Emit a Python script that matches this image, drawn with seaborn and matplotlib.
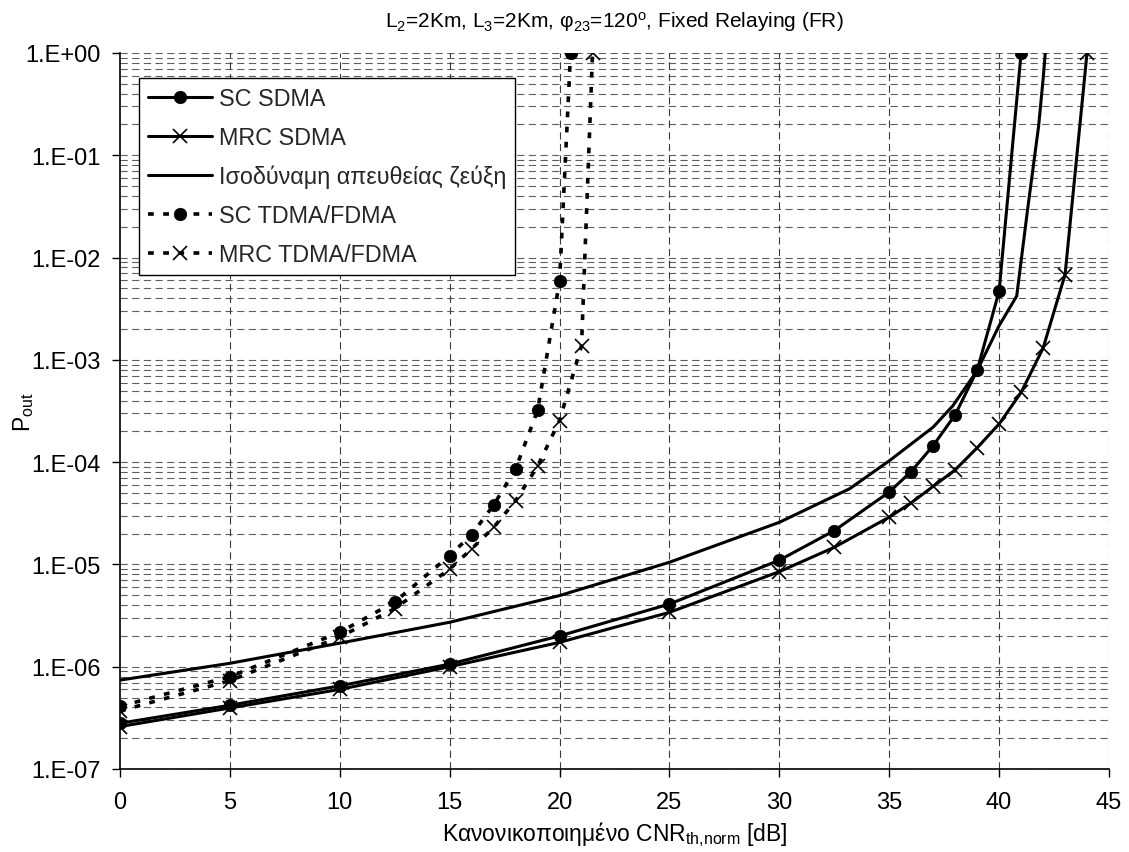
import numpy as np
import pandas as pd
import matplotlib
matplotlib.use("Agg")
import matplotlib.pyplot as plt
from matplotlib.ticker import FixedLocator, FixedFormatter, NullFormatter
import seaborn as sns

# ---- data -------------------------------------------------------------
sc_sdma_x = [0, 5, 10, 15, 20, 25, 30, 32.5, 35, 36, 37, 38, 39, 40, 41]
sc_sdma_y = [2.8e-7, 4.2e-7, 6.5e-7, 1.06e-6, 2.0e-6, 4.1e-6, 1.1e-5, 2.14e-5,
             5.1e-5, 8.1e-5, 1.45e-4, 2.9e-4, 7.9e-4, 4.7e-3, 1.0]

mrc_sdma_x = [0, 5, 10, 15, 20, 25, 30, 32.5, 35, 36, 37, 38, 39, 40, 41, 42, 43, 44]
mrc_sdma_y = [2.6e-7, 3.95e-7, 6.0e-7, 1.0e-6, 1.73e-6, 3.4e-6, 8.5e-6, 1.47e-5,
              2.9e-5, 4.0e-5, 5.8e-5, 8.4e-5, 1.38e-4, 2.36e-4, 4.8e-4, 1.3e-3,
              6.8e-3, 1.0]

direct_x = [0, 5, 10, 15, 20, 25, 30, 33.2, 35, 37, 37.9, 39.0, 40.0, 40.8,
            41.3, 41.8, 42.0, 42.1]
direct_y = [7.4e-7, 1.08e-6, 1.7e-6, 2.72e-6, 4.96e-6, 1.05e-5, 2.58e-5, 5.5e-5,
            1.03e-4, 2.2e-4, 3.57e-4, 7.85e-4, 2.16e-3, 4.2e-3, 3.0e-2, 1.95e-1,
            5.5e-1, 1.0]

sc_tdma_x = [0, 5, 10, 12.5, 15, 16, 17, 18, 19, 20, 20.5]
sc_tdma_y = [4.1e-7, 8.0e-7, 2.17e-6, 4.3e-6, 1.22e-5, 1.96e-5, 3.8e-5, 8.6e-5,
             3.2e-4, 5.9e-3, 1.0]

mrc_tdma_x = [0, 5, 10, 12.5, 15, 16, 17, 18, 19, 20, 21, 21.5]
mrc_tdma_y = [3.7e-7, 7.3e-7, 1.95e-6, 3.7e-6, 9.0e-6, 1.42e-5, 2.3e-5, 4.2e-5,
              9.1e-5, 2.55e-4, 1.38e-3, 1.0]

series_names = ["SC SDMA", "MRC SDMA", "Ισοδύναμη απευθείας ζεύξη",
                "SC TDMA/FDMA", "MRC TDMA/FDMA"]

x_ticks = [0, 5, 10, 15, 20, 25, 30, 35, 40, 45]
y_ticks = [1e-7, 1e-6, 1e-5, 1e-4, 1e-3, 1e-2, 1e-1, 1e0]
y_tick_labels = ["1.E-07", "1.E-06", "1.E-05", "1.E-04", "1.E-03", "1.E-02",
                 "1.E-01", "1.E+00"]

title_text = r"L$_2$=2Km, L$_3$=2Km, φ$_{23}$=120$^{\mathrm{o}}$, Fixed Relaying (FR)"
x_label = r"Κανονικοποιημένο CNR$_{\mathrm{th{,}norm}}$ [dB]"
y_label = r"P$_{\mathrm{out}}$"

# ---- style ------------------------------------------------------------
sns.set_theme(style="white")
plt.rcParams["font.family"] = ["Liberation Sans", "DejaVu Sans"]
plt.rcParams["mathtext.fontset"] = "custom"
plt.rcParams["mathtext.rm"] = "Liberation Sans"
plt.rcParams["mathtext.it"] = "Liberation Sans"
plt.rcParams["mathtext.bf"] = "Liberation Sans"

W, H = 1129, 853
fig = plt.figure(figsize=(W / 100, H / 100), dpi=100)
ax = fig.add_axes([120 / W, 1 - 770 / H, (1109 - 120) / W, (770 - 54) / H])
ax.set_facecolor("white")

# grid (drawn manually so minor and major share one dash style)
grid_kw = dict(lw=0.8, zorder=1, dashes=(6.5, 4.0))
for dec in range(-7, 0):
    for m in range(1, 10):
        v = m * 10.0 ** dec
        ax.axhline(v, color="#5e5e5e", **grid_kw)
ax.axhline(1.0, color="#5e5e5e", **grid_kw)
for xv in x_ticks[1:]:
    ax.axvline(xv, color="#3a3a3a", **grid_kw)

lw_solid = 2.2
dot_dashes = (1.6, 2.6)
circ = dict(marker="o", markersize=9, markerfacecolor="black",
            markeredgecolor="black", markeredgewidth=0.5)
cross = dict(marker="x", markersize=10, markeredgecolor="black",
             markeredgewidth=1.2)

sns.lineplot(x=sc_sdma_x, y=sc_sdma_y, ax=ax, color="black", lw=lw_solid,
             label=series_names[0], zorder=5, **circ)
sns.lineplot(x=mrc_sdma_x, y=mrc_sdma_y, ax=ax, color="black", lw=lw_solid,
             label=series_names[1], zorder=5, **cross)
sns.lineplot(x=direct_x, y=direct_y, ax=ax, color="black", lw=lw_solid,
             label=series_names[2], zorder=5)
sns.lineplot(x=sc_tdma_x, y=sc_tdma_y, ax=ax, color="black", lw=2.6,
             dashes=False, label=series_names[3], zorder=5, **circ)
sns.lineplot(x=mrc_tdma_x, y=mrc_tdma_y, ax=ax, color="black", lw=2.6,
             dashes=False, label=series_names[4], zorder=5, **cross)
for ln in ax.get_lines()[-2:]:
    ln.set_dashes(dot_dashes)
    ln.set_dash_capstyle("butt")

ax.set_yscale("log")
ax.set_xlim(0, 45)
ax.set_ylim(1e-7, 1.0)

ax.xaxis.set_major_locator(FixedLocator(x_ticks))
ax.set_xticklabels([str(t) for t in x_ticks])
ax.yaxis.set_major_locator(FixedLocator(y_ticks))
ax.yaxis.set_major_formatter(FixedFormatter(y_tick_labels))
ax.yaxis.set_minor_locator(FixedLocator([]))
ax.yaxis.set_minor_formatter(NullFormatter())

ax.tick_params(axis="both", which="major", direction="out", length=6,
               width=1, color="black", labelsize=17, labelcolor="black",
               left=True, bottom=True)
ax.tick_params(axis="x", pad=10)
ax.tick_params(axis="y", pad=8)

for side in ("top", "right"):
    ax.spines[side].set_visible(False)
for side in ("left", "bottom"):
    ax.spines[side].set_color("black")
    ax.spines[side].set_linewidth(1.2)
    ax.spines[side].set_zorder(6)

ax.set_xlabel(x_label, fontsize=16.5, color="black")
ax.xaxis.set_label_coords(0.5, -(835 - 770) / 716)
ax.xaxis.label.set_va("center")
ax.set_ylabel(y_label, fontsize=16.5, color="black")
ax.yaxis.set_label_coords(-(120 - 24) / 989, 0.5)
ax.yaxis.label.set_va("center")
fig.text((120 + 1109) / 2 / W, 1 - 22 / H, title_text, ha="center",
         va="center", fontsize=15, color="black")

leg = ax.legend(loc="upper left", bbox_to_anchor=(19 / 989, (770 - 79) / 716),
                borderaxespad=0, fontsize=16.8, frameon=True, fancybox=False,
                framealpha=1, edgecolor="black", handlelength=2.75,
                handletextpad=0.3, labelspacing=0.68, borderpad=0.38)
leg.get_frame().set_linewidth(1.0)
leg.set_zorder(10)

fig.savefig("out.png", dpi=100, facecolor="white")
